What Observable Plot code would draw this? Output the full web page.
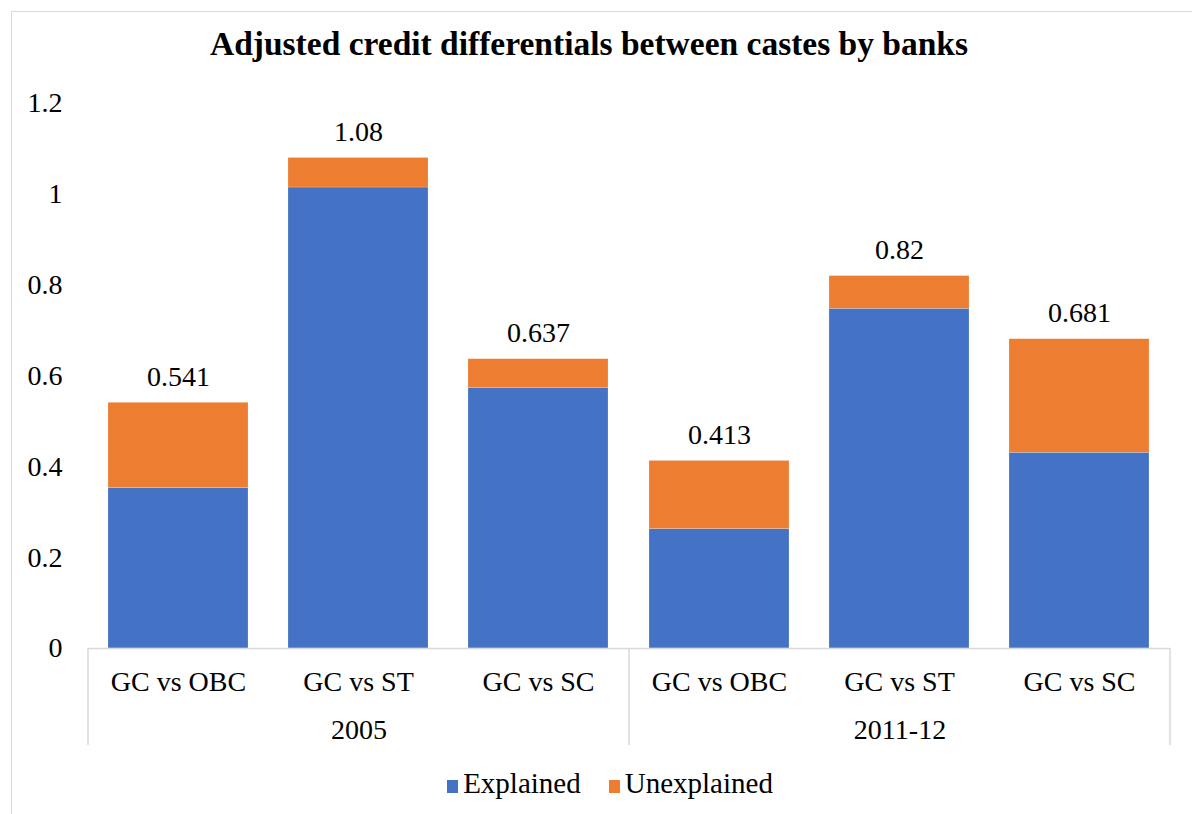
<!DOCTYPE html>
<html><head><meta charset="utf-8">
<script src="https://cdn.jsdelivr.net/npm/d3@7"></script>
<script src="https://cdn.jsdelivr.net/npm/@observablehq/plot@0.6"></script>
<style>
body{margin:0;background:#fff;}
#wrap{position:relative;width:1192px;height:814px;overflow:hidden;font-family:"Liberation Serif","Times New Roman",serif;color:#000;}
#border{position:absolute;left:11px;top:11px;width:1200px;height:820px;border:1px solid #d9d9d9;}
#chart{position:absolute;left:0;top:0;}
#title{position:absolute;top:25px;left:0;width:1178px;text-align:center;font-weight:bold;font-size:33.5px;}
#legend{position:absolute;top:767px;left:0;width:1220px;text-align:center;font-size:29px;}
#legend span.sw{display:inline-block;width:11px;height:13px;margin-right:5px;vertical-align:0px;}
#legend span.item{margin:0 14px;}
</style></head>
<body>
<div id="wrap">
  <div id="border"></div>
  <div id="chart"></div>
  <div id="title">Adjusted credit differentials between castes by banks</div>
  <div id="legend"></div>
</div>
<script>
const years = ["2005", "2011-12"];
const comparisons = ["GC vs OBC", "GC vs ST", "GC vs SC"];
const seriesNames = ["Explained", "Unexplained"];
const seriesColors = ["#4472C4", "#ED7D31"];
const explained = [0.353, 1.015, 0.573, 0.263, 0.748, 0.431];
const unexplained = [0.188, 0.065, 0.064, 0.150, 0.072, 0.250];
const totals = [0.541, 1.08, 0.637, 0.413, 0.82, 0.681];
const yTicks = [0, 0.2, 0.4, 0.6, 0.8, 1, 1.2];

const rows = [];
const totalRows = [];
for (let i = 0; i < totals.length; i++) {
  const year = years[Math.floor(i / 3)];
  const comp = comparisons[i % 3];
  rows.push({year, comp, type: seriesNames[0], value: explained[i]});
  rows.push({year, comp, type: seriesNames[1], value: unexplained[i]});
  totalRows.push({year, comp, total: totals[i]});
}

const FS = 28;
const plot = Plot.plot({
  width: 1192, height: 814,
  marginTop: 103, marginBottom: 166, marginLeft: 88, marginRight: 22,
  style: {fontFamily: '"Liberation Serif","Times New Roman",serif', background: "transparent", color: "#000"},
  fx: {domain: years, paddingInner: 0, paddingOuter: 0, axis: null, label: null},
  x: {domain: comparisons, paddingInner: 0.22, paddingOuter: 0.11, axis: null, label: null},
  y: {domain: [0, 1.2], axis: null, label: null},
  color: {domain: seriesNames, range: seriesColors},
  marks: [
    Plot.axisY({ticks: yTicks, tickFormat: d => String(d), tickSize: 0, tickPadding: 26, fontSize: FS, label: null}),
    Plot.barY(rows, Plot.stackY({fx: "year", x: "comp", y: "value", fill: "type", order: seriesNames, stroke: "#fff", strokeOpacity: 0.4, strokeWidth: 0.5})),
    Plot.ruleY([0], {stroke: "#d9d9d9", strokeWidth: 1.5}),
    Plot.axisX({tickSize: 0, tickPadding: 23, fontSize: FS, label: null}),
    Plot.text(totalRows, {fx: "year", x: "comp", y: "total", text: d => String(d.total), dy: -26, fontSize: FS}),
    Plot.text(years, {fx: d => d, text: d => d, frameAnchor: "bottom", dy: 90, fontSize: FS})
  ]
});
document.getElementById("chart").appendChild(plot);

// category separators below the axis, positioned from the fx scale
const fxs = plot.scale("fx");
const svg = d3.select(plot);
const r0 = fxs.range[0], r1 = fxs.range[1];
const step = (r1 - r0) / fxs.domain.length;
const bounds = d3.range(fxs.domain.length + 1).map(i => r0 + i * step);
const yZero = plot.scale("y").apply(0);
svg.append("g").selectAll("line").data(bounds).join("line")
  .attr("x1", d => d).attr("x2", d => d)
  .attr("y1", yZero).attr("y2", yZero + 97)
  .attr("stroke", "#d9d9d9").attr("stroke-width", 1.5);

const legend = document.getElementById("legend");
seriesNames.forEach((n, i) => {
  const s = document.createElement("span");
  s.className = "item";
  s.innerHTML = `<span class="sw" style="background:${seriesColors[i]}"></span>${n}`;
  legend.appendChild(s);
});
</script>
</body></html>
